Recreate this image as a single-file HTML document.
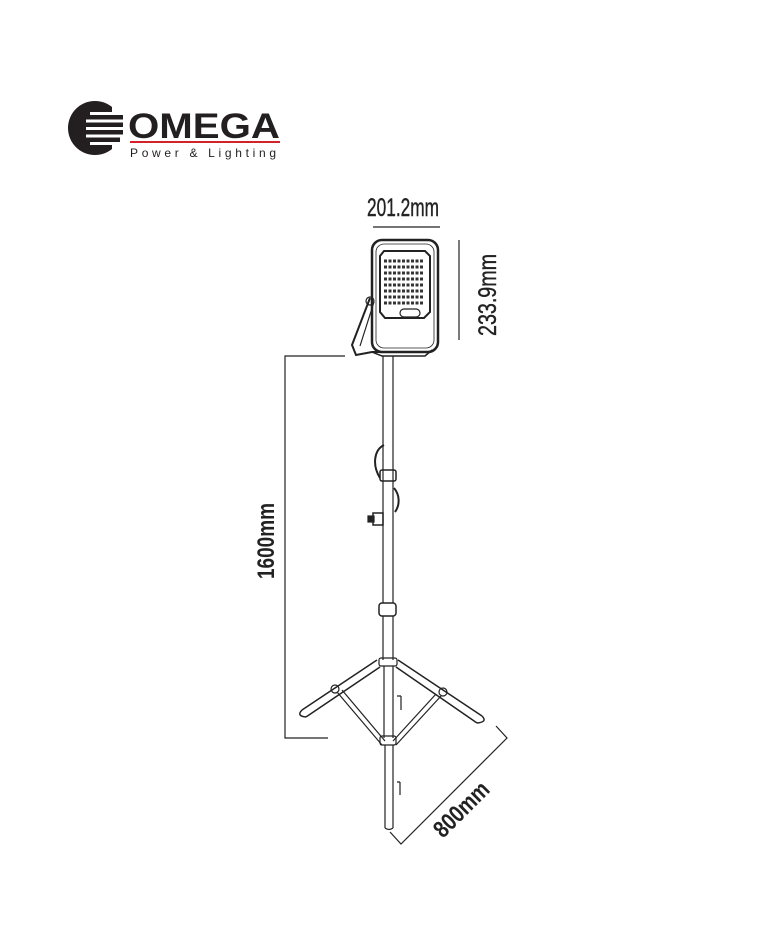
<!DOCTYPE html>
<html><head><meta charset="utf-8"><style>
html,body{margin:0;padding:0;background:#fff}
svg{display:block}
text{font-family:"Liberation Sans",sans-serif}
</style></head><body>
<svg width="764" height="948" viewBox="0 0 764 948" xmlns="http://www.w3.org/2000/svg">
<!-- Logo -->
<circle cx="95" cy="128" r="27" fill="#231f20"/>
<g fill="#fff">
<rect x="90" y="112" width="36" height="3"/>
<rect x="86" y="119.5" width="40" height="3"/>
<rect x="86" y="127" width="40" height="3"/>
<rect x="86" y="134.5" width="40" height="3"/>
<rect x="90" y="142" width="36" height="3"/>
<path d="M112 100 L126 100 L126 112 L112 112 Z"/>
<path d="M112 145 L126 145 L126 158 L112 158 Z"/>
</g>
<rect x="100" y="115" width="23" height="4.5" fill="#231f20"/>
<rect x="100" y="122.5" width="23" height="4.5" fill="#231f20"/>
<rect x="100" y="130" width="23" height="4.5" fill="#231f20"/>
<rect x="100" y="137.5" width="20" height="4.5" fill="#231f20"/>
<text x="128" y="138" font-size="35" font-weight="bold" fill="#231f20" textLength="152" lengthAdjust="spacingAndGlyphs">OMEGA</text>
<rect x="130" y="141" width="150" height="2" fill="#d2232a"/>
<text x="130" y="157" font-size="12" fill="#231f20" textLength="146" lengthAdjust="spacing">Power &amp; Lighting</text>

<g stroke="#222" fill="none" stroke-width="1.2">
<!-- dims -->
<line x1="373" y1="227" x2="440" y2="227"/>
<line x1="459" y1="240" x2="459" y2="340"/>
<polyline points="345,356 285,356 285,738 328,738"/>
<polyline points="390,832 401,844 507,738 496,726"/>
<!-- light -->
<rect x="372" y="240" width="66" height="112" rx="10" stroke-width="2.5"/>
<rect x="376" y="244" width="58" height="104" rx="8" stroke-width="0.8"/>
<path d="M384 251 L425 251 L430 256 L430 312 L424 318 L385 318 L380 312 L380 256 Z" stroke-width="2"/>
<rect x="400" y="309" width="20" height="8" rx="4"/>
<path d="M370 298 L352 345 L356 355 L372 352 L380 352" stroke-width="2"/>
<path d="M374 302 L360 346" />
<circle cx="370" cy="301" r="4"/>
<path d="M372 352 L382 356 L425 356 L432 350" stroke-width="1.5"/>
<!-- pole -->
<line x1="383" y1="356" x2="383" y2="603"/>
<line x1="393" y1="356" x2="393" y2="603"/>
<path d="M384 445 C374 450 372 465 380 478" stroke-width="2"/>
<path d="M394 488 C400 495 400 505 395 512" stroke-width="2"/>
<rect x="380" y="470" width="16" height="11" rx="2" stroke-width="1.5"/>
<rect x="373" y="513" width="10" height="12" stroke-width="1.5"/>
<rect x="368" y="516" width="6" height="6" fill="#222"/>
<rect x="379" y="603" width="17" height="13" rx="3" stroke-width="1.5"/>
<line x1="383" y1="616" x2="383" y2="660"/>
<line x1="393" y1="616" x2="393" y2="660"/>
<rect x="379" y="658" width="18" height="8" rx="2"/>
<line x1="384" y1="666" x2="384" y2="738"/>
<line x1="393" y1="666" x2="393" y2="738"/>
<path d="M401 696 L401 710 M397 696 L401 696"/>
<rect x="380" y="736" width="16" height="9" rx="2"/>
<line x1="385" y1="745" x2="385" y2="828"/>
<line x1="393" y1="745" x2="393" y2="828"/>
<path d="M385 828 Q389 831 393 828"/>
<path d="M400 782 L400 795 M397 782 L400 782"/>
<!-- legs -->
<path d="M377 660 L302 710 M380 667 L306 717" stroke-width="1.5"/>
<path d="M302 710 Q296 716 306 717" stroke-width="1.5"/>
<path d="M398 660 L482 716 M396 667 L477 723" stroke-width="1.5"/>
<path d="M482 716 Q488 722 477 723" stroke-width="1.5"/>
<circle cx="335" cy="689" r="4"/>
<circle cx="443" cy="692" r="4"/>
<line x1="337" y1="692" x2="382" y2="745"/>
<line x1="342" y1="690" x2="385" y2="741"/>
<line x1="441" y1="696" x2="396" y2="745"/>
<line x1="436" y1="694" x2="393" y2="741"/>
</g>
<!-- LED grid -->
<g stroke="#333" stroke-width="3" stroke-dasharray="3 1.5" fill="none">
<line x1="384" y1="261" x2="424" y2="261"/>
<line x1="384" y1="267" x2="424" y2="267"/>
<line x1="384" y1="273" x2="424" y2="273"/>
<line x1="384" y1="279" x2="424" y2="279"/>
<line x1="384" y1="285" x2="424" y2="285"/>
<line x1="384" y1="291" x2="424" y2="291"/>
<line x1="384" y1="297" x2="424" y2="297"/>
<line x1="384" y1="303" x2="424" y2="303"/>
</g>
<!-- labels -->
<text x="403" y="216" font-size="25" fill="#222" stroke="#222" stroke-width="0.4" text-anchor="middle" textLength="72" lengthAdjust="spacingAndGlyphs">201.2mm</text>
<text transform="translate(496,295) rotate(-90)" font-size="25" fill="#222" stroke="#222" stroke-width="0.4" text-anchor="middle" textLength="82" lengthAdjust="spacingAndGlyphs">233.9mm</text>
<text transform="translate(274,541) rotate(-90)" font-size="24" font-weight="bold" fill="#222" text-anchor="middle" textLength="76" lengthAdjust="spacingAndGlyphs">1600mm</text>
<text transform="translate(467,815) rotate(-45)" font-size="24" font-weight="bold" fill="#222" text-anchor="middle" textLength="68" lengthAdjust="spacingAndGlyphs">800mm</text>
</svg>
</body></html>
